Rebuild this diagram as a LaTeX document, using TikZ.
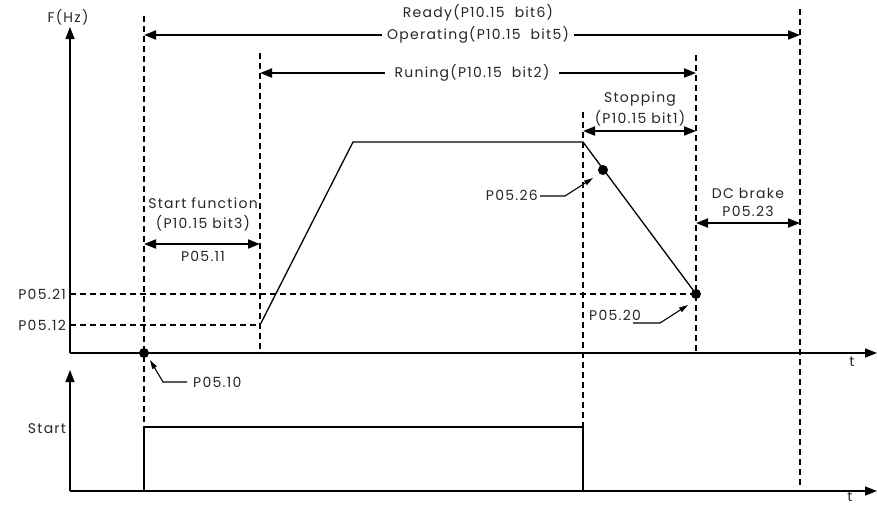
\documentclass[tikz,border=0pt]{standalone}
\usepackage{fontspec}
\setmainfont{Poppins}[LetterSpace=9]
\usetikzlibrary{arrows.meta}
\begin{document}
\begin{tikzpicture}[x=1pt,y=-1pt,
  lbl/.style={font=\fontsize{14}{16}\selectfont, inner sep=1pt, text=black!85},
  axisline/.style={line width=1.4pt, -{Triangle[length=12pt,width=9pt]}},
  dsh/.style={line width=1.2pt, dash pattern=on 6pt off 4pt},
  dimarrow/.style={line width=1.8pt, {Triangle[length=12pt,width=9pt]}-{Triangle[length=12pt,width=9pt]}},
  curve/.style={line width=1.3pt},
  leader/.style={line width=1.1pt, -{Triangle[length=9pt,width=5pt]}},
  dot/.style={circle, fill=black, inner sep=0pt, minimum size=10pt},
  gap/.style={lbl, fill=white, inner xsep=5pt}
]
\useasboundingbox (0,0) rectangle (877,507);
% axes
\coordinate (O1) at (70,353);
\coordinate (Y1) at (70,27);
\coordinate (X1) at (877,353);
\coordinate (O2) at (70,491);
\coordinate (Y2) at (70,370);
\coordinate (X2) at (877,491);
\draw[axisline] (O1) -- (Y1);
\draw[axisline] (O1) -- (X1);
\draw[axisline] (O2) -- (Y2);
\draw[axisline] (O2) -- (X2);
\node[lbl] (fhz) at (68,17) {F(Hz)};
\node[lbl] (t1) at (852,362) {t};
\node[lbl, inner sep=0pt] (t2) at (850,497) {t};
\node[lbl] (start) at (47,429) {Start};
% dashed verticals
\coordinate (a1) at (144,16);  \coordinate (a2) at (144,427);
\coordinate (b1) at (260,53);  \coordinate (b2) at (260,353);
\coordinate (c1) at (583,112); \coordinate (c2) at (583,427);
\coordinate (d1) at (696,55);  \coordinate (d2) at (696,353);
\coordinate (e1) at (800,9);   \coordinate (e2) at (800,486);
\draw[dsh] (a1) -- (a2);
\draw[dsh] (b1) -- (b2);
\draw[dsh] (c1) -- (c2);
\draw[dsh] (d1) -- (d2);
\draw[dsh] (e1) -- (e2);
% horizontal dashed levels
\coordinate (h21a) at (70,294); \coordinate (h21b) at (696,294);
\coordinate (h12a) at (70,325); \coordinate (h12b) at (260,325);
\draw[dsh] (h21a) -- (h21b);
\draw[dsh] (h12a) -- (h12b);
\node[lbl, anchor=east] (p0521) at (67,294) {P05.21};
\node[lbl, anchor=east] (p0512) at (67,325) {P05.12};
% frequency curve
\coordinate (r0) at (260,325);
\coordinate (r1) at (353,142);
\coordinate (r2) at (583,142);
\coordinate (r3) at (696,294);
\draw[curve] (r0) -- (r1) -- (r2) -- (r3);
\node[dot] (dot26) at (603,170) {};
\node[dot] (dot20) at (696,294) {};
\node[dot] (dot10) at (144,353) {};
% start pulse
\coordinate (s0) at (144,491);
\coordinate (s1) at (144,427);
\coordinate (s2) at (583,427);
\coordinate (s3) at (583,491);
\draw[curve] (s0) -- (s1) -- (s2) -- (s3);
% Ready / Operating
\coordinate (rdL) at (144,35); \coordinate (rdR) at (800,35);
\draw[dimarrow] (rdL) -- (rdR);
\node[gap] (oper) at (478,35) {Operating(P10.15\ \ bit5)};
\node[lbl] (ready) at (478,13) {Ready(P10.15\ \ bit6)};
% Runing
\coordinate (ruL) at (260,73); \coordinate (ruR) at (696,73);
\draw[dimarrow] (ruL) -- (ruR);
\node[gap, inner xsep=10pt] (run) at (472,73) {Runing(P10.15\ \ bit2)};
% Stopping
\coordinate (stL) at (583,131); \coordinate (stR) at (696,131);
\draw[dimarrow] (stL) -- (stR);
\node[lbl] (stop1) at (640,99) {Stopping};
\node[lbl] (stop2) at (640,118) {(P10.15 bit1)};
% Start function
\coordinate (sfL) at (144,244); \coordinate (sfR) at (260,244);
\draw[dimarrow] (sfL) -- (sfR);
\node[lbl] (sf1) at (203,203) {Start function};
\node[lbl] (sf2) at (203,223) {(P10.15 bit3)};
\node[lbl] (p0511) at (203,256) {P05.11};
% DC brake
\coordinate (dcL) at (696,223); \coordinate (dcR) at (800,223);
\draw[dimarrow] (dcL) -- (dcR);
\node[lbl] (dc1) at (748,193) {DC brake};
\node[lbl] (dc2) at (748,211) {P05.23};
% leaders
\node[lbl, anchor=west] (p0510) at (192,382) {P05.10};
\coordinate (l10a) at (187,382); \coordinate (l10b) at (163,382); \coordinate (l10c) at (150,360);
\draw[leader] (l10a) -- (l10b) -- (l10c);
\node[lbl, anchor=east] (p0526) at (539,195) {P05.26};
\coordinate (l26a) at (540,196); \coordinate (l26b) at (565,196); \coordinate (l26c) at (593,178);
\draw[leader] (l26a) -- (l26b) -- (l26c);
\node[lbl, anchor=west] (p0520) at (588,315) {P05.20};
\coordinate (l20a) at (633,323); \coordinate (l20b) at (660,323); \coordinate (l20c) at (688,305);
\draw[leader] (l20a) -- (l20b) -- (l20c);
\end{tikzpicture}
\end{document}
